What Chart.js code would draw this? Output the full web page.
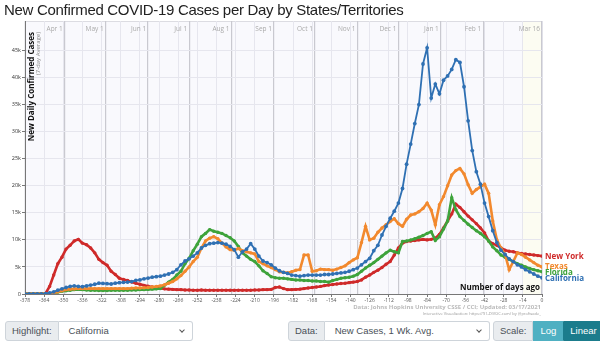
<!DOCTYPE html>
<html lang="en">
<head>
<meta charset="UTF-8">
<title>New Confirmed COVID-19 Cases per Day by States/Territories</title>
<script src="https://cdn.jsdelivr.net/npm/chart.js"></script>
<style>
    body { margin: 0; background: #fff; font-family: "Liberation Sans", Arial, sans-serif; overflow: hidden; }
    #wrap { position: relative; width: 600px; height: 342px; }
    #title { position: absolute; left: 4px; top: 1px; font-size: 15px; letter-spacing: -0.3px; color: #222; white-space: nowrap; }
    canvas { position: absolute; left: 0; top: 0; }
    .credit { position: absolute; right: 59px; color: #bbb; font-family: "Open Sans", sans-serif; font-weight: bold; white-space: nowrap; text-align: right; }
    .grp { position: absolute; top: 321px; height: 20px; display: flex; font-family: "Liberation Sans", Arial, sans-serif; font-size: 9.5px; color: #495057; }
    .lab { background: #e9ecef; border: 1px solid #ced4da; border-radius: 3px 0 0 3px; padding: 0 6px; line-height: 18px; }
    .sel { position: relative; background: #fff; border: 1px solid #ced4da; border-left: none; border-radius: 0 3px 3px 0; padding: 0 10px; line-height: 18px; flex: 1; }
    .sel::after { content: ""; position: absolute; right: 8px; top: 6px; width: 3px; height: 3px; border-right: 1px solid #555; border-bottom: 1px solid #555; transform: rotate(45deg); }
    .btn { line-height: 18px; padding: 0 6px; color: #fff; border: 1px solid #17a2b8; }
</style>
</head>
<body>
<div id="wrap">
    <canvas id="casesChart" width="600" height="318"></canvas>
    <div id="title">New Confirmed COVID-19 Cases per Day by States/Territories</div>
    <div class="credit" style="top:303px;font-size:6px;">Data: Johns Hopkins University CSSE / CCI; Updated: 03/17/2021</div>
    <div class="credit" style="top:311px;font-size:4px;font-weight:normal;color:#999;">Interactive Visualization: https://91-DIVOC.com/ by @profwade_</div>
    <div class="grp" style="left:5px;width:188px;"><span class="lab">Highlight:</span><span class="sel">California</span></div>
    <div class="grp" style="left:288px;width:202px;"><span class="lab">Data:</span><span class="sel">New Cases, 1 Wk. Avg.</span></div>
    <div class="grp" style="left:493px;"><span class="lab">Scale:</span><span class="btn" style="background:#4fb0c2;border-color:#4fb0c2;">Log</span><span class="btn" style="background:#1b7c8c;border-color:#1b7c8c;border-radius:0 3px 3px 0;">Linear</span></div>
</div>
<script>
    // sample days (days before Mar 16, 2021), every 3 days
    const daysAgo = Array.from({ length: 127 }, (_, i) => -378 + 3 * i);

    // 7-day average of new cases, thousands
    const newYork = [
        0.05, 0.05, 0.05, 0.05, 0.05, 0.1, 1.4, 3.5, 5.6, 6.8,
        8.3, 9.0, 9.8, 10.1, 9.4, 9.1, 8.5, 7.6, 6.4, 5.8,
        5.3, 4.2, 3.6, 2.9, 2.7, 2.5, 2.2, 2.0, 1.8, 1.6,
        1.45, 1.3, 1.15, 1.05, 0.95, 0.9, 0.85, 0.8, 0.8, 0.75,
        0.75, 0.7, 0.7, 0.75, 0.7, 0.7, 0.7, 0.7, 0.7, 0.7,
        0.7, 0.7, 0.7, 0.7, 0.7, 0.7, 0.75, 0.75, 0.8, 0.8,
        0.85, 1.2, 1.3, 1.0, 0.8, 0.8, 0.85, 0.9, 1.0, 1.1,
        1.2, 1.3, 1.4, 1.55, 1.65, 1.75, 1.85, 1.95, 2.0, 2.1,
        2.2, 2.3, 2.6, 3.1, 3.5, 4.0, 4.4, 4.9, 5.5, 6.0,
        7.2, 8.5, 9.4, 9.7, 9.8, 9.9, 10.0, 10.1, 10.0, 10.1,
        10.3, 11.0, 12.2, 13.5, 14.8, 16.6, 16.0, 15.2, 14.4, 13.7,
        13.0, 12.2, 11.3, 9.8, 9.3, 9.0, 8.5, 8.1, 7.9, 7.8,
        7.6, 7.5, 7.4, 7.3, 7.2, 7.1, 7.0
    ];
    const texas = [
        0.02, 0.02, 0.02, 0.02, 0.02, 0.05, 0.1, 0.2, 0.4, 0.6,
        0.8, 0.9, 0.95, 1.0, 1.0, 1.0, 1.0, 1.0, 1.0, 1.0,
        1.0, 1.0, 1.0, 1.0, 1.0, 1.0, 1.05, 1.1, 1.1, 1.15,
        1.2, 1.3, 1.4, 1.5, 1.7, 2.0, 2.3, 2.8, 3.4, 4.2,
        5.0, 6.0, 6.8, 8.5, 9.8, 10.3, 10.6, 10.2, 9.4, 8.7,
        8.2, 8.1, 8.4, 8.0, 7.8, 7.6, 7.4, 6.0, 5.6, 5.2,
        4.9, 4.5, 4.1, 4.0, 3.9, 4.1, 4.4, 4.5, 7.2, 7.2,
        4.2, 4.3, 4.6, 4.5, 4.5, 4.4, 4.6, 4.9, 5.2, 5.8,
        6.3, 6.7, 9.5, 12.5, 10.0, 10.3, 11.4, 12.2, 12.8, 13.4,
        13.9, 13.0, 12.5, 13.8, 14.6, 14.8, 15.2, 15.8, 16.8, 15.5,
        12.8, 16.5, 18.0, 20.0, 22.0, 22.8, 23.2, 22.2, 20.2, 18.6,
        19.3, 19.8, 20.3, 18.6, 13.5, 10.0, 8.5, 7.3, 4.5, 6.0,
        7.6, 7.3, 6.8, 6.3, 5.8, 5.3, 5.0
    ];
    const florida = [
        0.02, 0.02, 0.02, 0.02, 0.02, 0.05, 0.1, 0.2, 0.35, 0.5,
        0.6, 0.7, 0.8, 0.85, 0.8, 0.75, 0.7, 0.7, 0.65, 0.65,
        0.65, 0.7, 0.7, 0.7, 0.7, 0.7, 0.75, 0.75, 0.8, 0.8,
        0.85, 0.9, 0.95, 1.0, 1.6, 2.2, 2.7, 3.5, 4.2, 5.6,
        6.6, 8.0, 9.2, 10.6, 11.2, 11.9, 11.6, 11.4, 11.2, 10.8,
        10.4, 9.8, 8.8, 7.6, 7.0, 6.4, 6.0, 5.2, 4.3, 3.8,
        3.2, 3.0, 2.9, 2.9, 2.8, 2.7, 2.6, 2.6, 2.5, 2.5,
        2.4, 2.4, 2.3, 2.3, 2.2, 2.5, 2.7, 2.9, 3.0, 3.1,
        3.3, 3.6, 4.2, 4.8, 5.3, 5.8, 6.4, 7.0, 7.6, 8.1,
        7.8, 7.6, 9.7, 9.8, 10.0, 10.2, 10.5, 10.8, 11.2, 11.5,
        9.9, 10.6, 12.0, 13.5, 17.8, 15.6, 14.3, 13.6, 12.9, 12.3,
        11.7, 11.2, 10.6, 9.8, 8.7, 8.0, 7.2, 6.8, 6.4, 6.0,
        5.6, 5.3, 5.0, 4.7, 4.5, 4.3, 4.1
    ];
    const california = [
        0.02, 0.02, 0.02, 0.02, 0.02, 0.05, 0.2, 0.4, 0.7, 0.95,
        1.2, 1.4, 1.5, 1.4, 1.35, 1.5, 1.65, 1.8, 2.0, 1.95,
        1.9, 1.85, 2.0, 2.1, 2.15, 2.2, 2.3, 2.5, 2.6, 2.8,
        2.95, 3.1, 3.2, 3.3, 3.5, 3.7, 4.0, 4.5, 5.4, 6.1,
        6.5, 7.0, 7.6, 8.5, 9.0, 9.3, 9.4, 9.5, 9.4, 9.2,
        8.8, 8.2, 6.8, 7.8, 8.3, 9.3, 8.3, 7.0, 6.1, 5.8,
        5.4, 4.8, 4.3, 4.0, 3.8, 3.5, 3.4, 3.3, 3.4, 3.5,
        3.5, 3.5, 3.5, 3.6, 3.6, 3.7, 3.8, 3.9, 4.0, 4.2,
        4.5, 4.8, 5.4, 6.0, 6.6, 8.0, 9.0, 10.9, 12.5, 14.0,
        15.3, 16.8, 19.5, 24.0, 27.7, 31.5, 35.0, 42.5, 45.5, 36.2,
        38.8, 37.0, 39.5, 40.3, 41.5, 43.3, 42.8, 38.3, 32.0, 26.5,
        22.6, 20.3, 16.8, 14.3, 11.7, 9.5, 8.1, 7.3, 6.5, 6.0,
        5.4, 5.0, 4.5, 4.1, 3.7, 3.3, 3.0
    ];

    const stateNames = ['California', 'Texas', 'Florida', 'New York'];
    const stateValues = [california, texas, florida, newYork];
    const stateColors = ['#2f70b3', '#f2892e', '#3ea33b', '#cf2a2a'];

    const xTicks = [-378, -364, -350, -336, -322, -308, -294, -280, -266, -252, -238, -224, -210, -196,
                    -182, -168, -154, -140, -126, -112, -98, -84, -70, -56, -42, -28, -14, 0];
    const yTicks = [0, 5, 10, 15, 20, 25, 30, 35, 40, 45];
    const monthDays = [-349, -319, -288, -258, -227, -196, -166, -135, -105, -74, -43, 0];
    const monthLabels = ['Apr 1', 'May 1', 'Jun 1', 'Jul 1', 'Aug 1', 'Sep 1', 'Oct 1', 'Nov 1', 'Dec 1', 'Jan 1', 'Feb 1', 'Mar 16'];

    const tickFont = '"Open Sans", sans-serif';

    // plot background + recent-days band
    const backdrop = {
        id: 'backdrop',
        beforeDraw(chart) {
            const { ctx, chartArea: a, scales } = chart;
            ctx.save();
            ctx.fillStyle = '#f9f9fd';
            ctx.fillRect(a.left, a.top, a.right - a.left, a.bottom - a.top);
            const x14 = scales.x.getPixelForValue(-14);
            ctx.fillStyle = '#fcfcf2';
            ctx.fillRect(x14, a.top, a.right - x14, a.bottom - a.top);
            ctx.strokeStyle = '#dcdce2';
            ctx.lineWidth = 1;
            ctx.strokeRect(a.left, a.top + 0.5, a.right - a.left, a.bottom - a.top);
            ctx.restore();
        }
    };

    // text inside the plot: month names, axis titles, state names at line ends
    const annotations = {
        id: 'annotations',
        afterDatasetsDraw(chart) {
            const { ctx, chartArea: a, scales } = chart;
            ctx.save();

            ctx.fillStyle = '#aaa';
            ctx.font = '6.5px ' + tickFont;
            ctx.textAlign = 'right';
            ctx.textBaseline = 'alphabetic';
            monthDays.forEach((d, i) => {
                ctx.fillText(monthLabels[i], scales.x.getPixelForValue(d) - 2, a.top + 10);
            });

            ctx.save();
            ctx.translate(a.left + 9, a.top + 11);
            ctx.rotate(-Math.PI / 2);
            ctx.textAlign = 'right';
            ctx.fillStyle = '#111';
            ctx.font = 'bold 8px ' + tickFont;
            ctx.fillText('New Daily Confirmed Cases', 0, 0);
            ctx.fillStyle = '#888';
            ctx.font = '6px ' + tickFont;
            ctx.fillText('(7-day Average)', 0, 6);
            ctx.restore();

            ctx.fillStyle = '#111';
            ctx.font = 'bold 8px ' + tickFont;
            ctx.textAlign = 'right';
            ctx.fillText('Number of days ago', a.right - 2, a.bottom - 4);

            // state labels, nudged apart so they do not overlap
            const ends = stateNames.map((name, i) => ({
                name, color: stateColors[i],
                y: scales.y.getPixelForValue(stateValues[i][stateValues[i].length - 1]) + 1
            })).sort((p, q) => q.y - p.y);
            for (let i = 1; i < ends.length; i++) {
                if (ends[i - 1].y - ends[i].y < 6) ends[i].y = ends[i - 1].y - 6;
            }
            ctx.font = 'bold 8px ' + tickFont;
            ctx.textAlign = 'left';
            ctx.textBaseline = 'middle';
            ends.forEach(e => {
                ctx.fillStyle = e.color;
                ctx.fillText(e.name, a.right + 3, e.y);
            });
            ctx.restore();
        }
    };

    const ctx = document.getElementById('casesChart').getContext('2d');
    new Chart(ctx, {
        type: 'line',
        data: {
            datasets: stateNames.map((name, i) => ({
                label: name,
                data: daysAgo.map((d, j) => ({ x: d, y: stateValues[i][j] })),
                borderColor: stateColors[i],
                backgroundColor: stateColors[i],
                borderWidth: i === 0 ? 1.8 : 2.6,
                pointRadius: i === 0 ? 1.9 : 1.7,
                pointBorderWidth: 0,
                tension: 0,
                order: i
            }))
        },
        options: {
            responsive: false,
            animation: false,
            layout: { padding: { left: 0, right: 58, top: 21, bottom: 0 } },
            scales: {
                x: {
                    type: 'linear', position: 'bottom', min: -378, max: 0,
                    afterBuildTicks: s => { s.ticks = xTicks.map(v => ({ value: v })); },
                    afterFit: s => { s.height = 24; },
                    ticks: { color: '#555', font: { size: 5, family: tickFont }, padding: 1, maxRotation: 0, autoSkip: false },
                    grid: { color: '#e6e6ee', tickLength: 3, tickColor: '#777' },
                    border: { color: '#777' }
                },
                months: {
                    type: 'linear', position: 'top', min: -378, max: 0,
                    afterBuildTicks: s => { s.ticks = monthDays.map(v => ({ value: v })); },
                    afterFit: s => { s.height = 0; },
                    ticks: { display: false },
                    grid: { color: '#c9c9d0', lineWidth: 1.2, drawTicks: false },
                    border: { display: false }
                },
                y: {
                    min: 0, max: 50.45,
                    afterBuildTicks: s => { s.ticks = yTicks.map(v => ({ value: v })); },
                    afterFit: s => { s.width = 25; },
                    ticks: {
                        color: '#333', font: { size: 5.5, family: tickFont }, padding: 1,
                        callback: v => v === 0 ? '0' : v + 'k'
                    },
                    grid: { color: '#e6e6ee', tickLength: 3, tickColor: '#777' },
                    border: { color: '#777' }
                }
            },
            plugins: { legend: { display: false }, tooltip: { enabled: false } }
        },
        plugins: [backdrop, annotations]
    });
</script>
</body>
</html>
